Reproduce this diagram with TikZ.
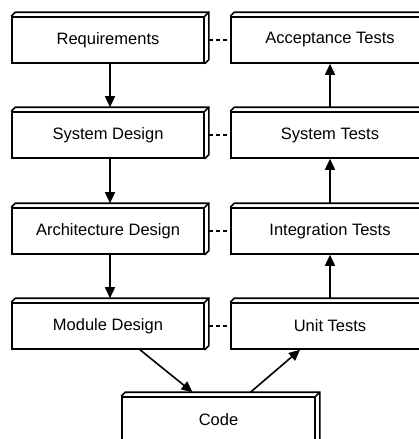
\documentclass[tikz,border=0pt]{standalone}
\usepackage{fontspec}
\setmainfont{Liberation Sans}
\usetikzlibrary{arrows.meta}

\tikzset{
  stage/.style={draw, line width=1.6pt, fill=white, minimum height=46pt, inner sep=0pt, font=\fontsize{16.5}{19}\selectfont},
  leftstage/.style={stage, minimum width=192pt},
  rightstage/.style={stage, minimum width=198pt},
  flow/.style={line width=1.6pt, -{Triangle[length=11pt,width=10pt]}},
  link/.style={line width=1.5pt, dash pattern=on 4pt off 3pt}
}

\begin{document}
\begin{tikzpicture}[x=1pt, y=-1pt]
  \def\d{4}
  \clip (0,0) rectangle (419,439);
  \useasboundingbox (0,0) rectangle (419,439);

  % left column
  \node[leftstage] (req)  at (108,40)  {Requirements};
  \node[leftstage] (sys)  at (108,135) {System Design};
  \node[leftstage] (arch) at (108,231) {Architecture Design};
  \node[leftstage] (mod)  at (108,326) {Module Design};

  % right column
  \node[rightstage] (acc)   at (330,40)  {Acceptance Tests};
  \node[rightstage] (systs) at (330,135) {System Tests};
  \node[rightstage] (integ) at (330,231) {Integration Tests};
  \node[rightstage] (unit)  at (330,326) {Unit Tests};

  \node[leftstage, minimum width=193pt] (code) at (218.5,420) {Code};

  % top and side faces
  \foreach \n in {req,sys,arch,mod,acc,systs,integ,unit,code}{
    \draw[line width=1.6pt, line join=miter] (\n.north west) -- ++(\d,-\d) -| ([shift={(\d,-\d)}]\n.south east) -- (\n.south east);
    \draw[line width=1.6pt] (\n.north east) -- ++(\d,-\d);
  }

  \begin{scope}
    \draw[flow] ([xshift=2pt]req.south)  -- ([shift={(2pt,\d pt)}]sys.north);
    \draw[flow] ([xshift=2pt]sys.south)  -- ([shift={(2pt,\d pt)}]arch.north);
    \draw[flow] ([xshift=2pt]arch.south) -- ([shift={(2pt,\d pt)}]mod.north);
  \end{scope}

  \begin{scope}
    \draw[flow] ([yshift=\d pt]systs.north) -- (acc);
    \draw[flow] ([yshift=\d pt]integ.north) -- (systs);
    \draw[flow] ([yshift=\d pt]unit.north)  -- (integ);
  \end{scope}

  \begin{scope}
    \draw[flow] ([xshift=32pt]mod.south) -- ([xshift=-26pt, yshift=\d pt]code.north);
    \draw[flow] ([xshift=32pt, yshift=\d pt]code.north) -- ([xshift=-30pt]unit.south);
  \end{scope}

  \foreach \a/\b in {req/acc, sys/systs, arch/integ, mod/unit}
    \draw[link] ([xshift=\d pt]\a.east) -- (\b.west);
\end{tikzpicture}
\end{document}
